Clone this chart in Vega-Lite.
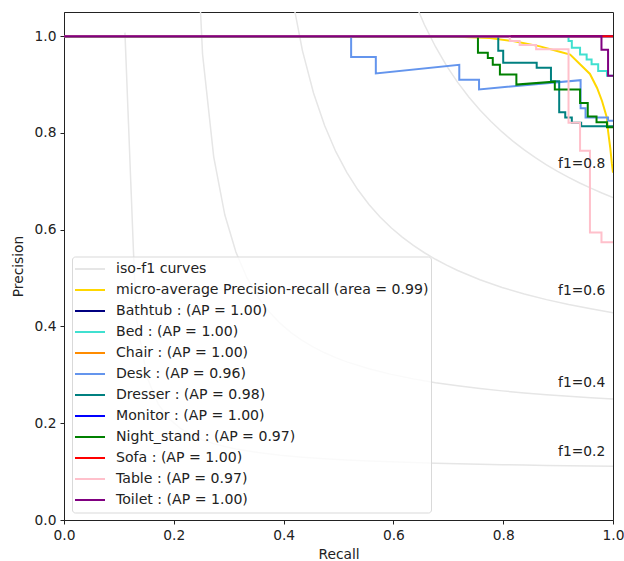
{
  "$schema": "https://vega.github.io/schema/vega-lite/v6.json",
  "autosize": {"type": "none"},
  "width": 549,
  "height": 508,
  "padding": {"left": 64, "top": 12, "right": 11, "bottom": 41},
  "background": "white",
  "config": {
    "view": {"stroke": "#222", "strokeWidth": 1},
    "axis": {"grid": false, "labelFlush": false, "labelOverlap": false, "domainColor": "#222", "tickColor": "#222", "tickSize": 4, "labelColor": "#222", "titleColor": "#222", "labelFont": "DejaVu Sans", "titleFont": "DejaVu Sans", "labelFontSize": 13.8, "titleFontSize": 13.8, "titleFontWeight": "normal", "labelPadding": 4},
    "legend": {"orient": "none", "legendX": 8, "legendY": 244.5, "symbolType": "stroke", "symbolSize": 900, "symbolStrokeWidth": 2, "labelFont": "DejaVu Sans", "labelFontSize": 14.1, "labelColor": "#222", "fillColor": "rgba(255,255,255,0.8)", "strokeColor": "#d9d9d9", "cornerRadius": 3, "padding": 2, "rowPadding": 0, "clipHeight": 21, "labelLimit": 500, "labelOffset": 10}
  },
  "datasets": {
    "iso": [
      {"s":"iso-f1 curves","c":"0.2","i":0,"x":0.1110,"y":1.0074},
      {"s":"iso-f1 curves","c":"0.2","i":1,"x":0.1312,"y":0.4203},
      {"s":"iso-f1 curves","c":"0.2","i":2,"x":0.1514,"y":0.2944},
      {"s":"iso-f1 curves","c":"0.2","i":3,"x":0.1716,"y":0.2396},
      {"s":"iso-f1 curves","c":"0.2","i":4,"x":0.1918,"y":0.2089},
      {"s":"iso-f1 curves","c":"0.2","i":5,"x":0.2120,"y":0.1893},
      {"s":"iso-f1 curves","c":"0.2","i":6,"x":0.2322,"y":0.1756},
      {"s":"iso-f1 curves","c":"0.2","i":7,"x":0.2524,"y":0.1656},
      {"s":"iso-f1 curves","c":"0.2","i":8,"x":0.2727,"y":0.1579},
      {"s":"iso-f1 curves","c":"0.2","i":9,"x":0.2929,"y":0.1519},
      {"s":"iso-f1 curves","c":"0.2","i":10,"x":0.3131,"y":0.1469},
      {"s":"iso-f1 curves","c":"0.2","i":11,"x":0.3535,"y":0.1395},
      {"s":"iso-f1 curves","c":"0.2","i":12,"x":0.3939,"y":0.1340},
      {"s":"iso-f1 curves","c":"0.2","i":13,"x":0.4343,"y":0.1299},
      {"s":"iso-f1 curves","c":"0.2","i":14,"x":0.4747,"y":0.1267},
      {"s":"iso-f1 curves","c":"0.2","i":15,"x":0.5151,"y":0.1241},
      {"s":"iso-f1 curves","c":"0.2","i":16,"x":0.5555,"y":0.1220},
      {"s":"iso-f1 curves","c":"0.2","i":17,"x":0.5959,"y":0.1202},
      {"s":"iso-f1 curves","c":"0.2","i":18,"x":0.6363,"y":0.1187},
      {"s":"iso-f1 curves","c":"0.2","i":19,"x":0.6767,"y":0.1173},
      {"s":"iso-f1 curves","c":"0.2","i":20,"x":0.7171,"y":0.1162},
      {"s":"iso-f1 curves","c":"0.2","i":21,"x":0.7576,"y":0.1152},
      {"s":"iso-f1 curves","c":"0.2","i":22,"x":0.7980,"y":0.1143},
      {"s":"iso-f1 curves","c":"0.2","i":23,"x":0.8384,"y":0.1135},
      {"s":"iso-f1 curves","c":"0.2","i":24,"x":0.8788,"y":0.1128},
      {"s":"iso-f1 curves","c":"0.2","i":25,"x":0.9192,"y":0.1122},
      {"s":"iso-f1 curves","c":"0.2","i":26,"x":0.9596,"y":0.1116},
      {"s":"iso-f1 curves","c":"0.2","i":27,"x":1.0,"y":0.1111},
      {"s":"iso-f1 curves","c":"0.4","i":0,"x":0.2120,"y":3.522},
      {"s":"iso-f1 curves","c":"0.4","i":1,"x":0.2322,"y":1.4405},
      {"s":"iso-f1 curves","c":"0.4","i":2,"x":0.2524,"y":0.9627},
      {"s":"iso-f1 curves","c":"0.4","i":3,"x":0.2727,"y":0.7506},
      {"s":"iso-f1 curves","c":"0.4","i":4,"x":0.2929,"y":0.6308},
      {"s":"iso-f1 curves","c":"0.4","i":5,"x":0.3131,"y":0.5538},
      {"s":"iso-f1 curves","c":"0.4","i":6,"x":0.3333,"y":0.5002},
      {"s":"iso-f1 curves","c":"0.4","i":7,"x":0.3535,"y":0.4606},
      {"s":"iso-f1 curves","c":"0.4","i":8,"x":0.3737,"y":0.4303},
      {"s":"iso-f1 curves","c":"0.4","i":9,"x":0.3939,"y":0.4063},
      {"s":"iso-f1 curves","c":"0.4","i":10,"x":0.4141,"y":0.3868},
      {"s":"iso-f1 curves","c":"0.4","i":11,"x":0.4343,"y":0.3707},
      {"s":"iso-f1 curves","c":"0.4","i":12,"x":0.4545,"y":0.3572},
      {"s":"iso-f1 curves","c":"0.4","i":13,"x":0.4747,"y":0.3456},
      {"s":"iso-f1 curves","c":"0.4","i":14,"x":0.4949,"y":0.3356},
      {"s":"iso-f1 curves","c":"0.4","i":15,"x":0.5151,"y":0.3269},
      {"s":"iso-f1 curves","c":"0.4","i":16,"x":0.5555,"y":0.3125},
      {"s":"iso-f1 curves","c":"0.4","i":17,"x":0.5959,"y":0.3010},
      {"s":"iso-f1 curves","c":"0.4","i":18,"x":0.6363,"y":0.2917},
      {"s":"iso-f1 curves","c":"0.4","i":19,"x":0.6767,"y":0.2839},
      {"s":"iso-f1 curves","c":"0.4","i":20,"x":0.7171,"y":0.2774},
      {"s":"iso-f1 curves","c":"0.4","i":21,"x":0.7576,"y":0.2717},
      {"s":"iso-f1 curves","c":"0.4","i":22,"x":0.7980,"y":0.2669},
      {"s":"iso-f1 curves","c":"0.4","i":23,"x":0.8384,"y":0.2627},
      {"s":"iso-f1 curves","c":"0.4","i":24,"x":0.8788,"y":0.2589},
      {"s":"iso-f1 curves","c":"0.4","i":25,"x":0.9192,"y":0.2556},
      {"s":"iso-f1 curves","c":"0.4","i":26,"x":0.9596,"y":0.2527},
      {"s":"iso-f1 curves","c":"0.4","i":27,"x":1.0,"y":0.25},
      {"s":"iso-f1 curves","c":"0.6","i":0,"x":0.3131,"y":7.191},
      {"s":"iso-f1 curves","c":"0.6","i":1,"x":0.3333,"y":3.0055},
      {"s":"iso-f1 curves","c":"0.6","i":2,"x":0.3535,"y":1.9832},
      {"s":"iso-f1 curves","c":"0.6","i":3,"x":0.3737,"y":1.5216},
      {"s":"iso-f1 curves","c":"0.6","i":4,"x":0.3939,"y":1.2587},
      {"s":"iso-f1 curves","c":"0.6","i":5,"x":0.4141,"y":1.0889},
      {"s":"iso-f1 curves","c":"0.6","i":6,"x":0.4343,"y":0.9702},
      {"s":"iso-f1 curves","c":"0.6","i":7,"x":0.4545,"y":0.8826},
      {"s":"iso-f1 curves","c":"0.6","i":8,"x":0.4747,"y":0.8152},
      {"s":"iso-f1 curves","c":"0.6","i":9,"x":0.4949,"y":0.7618},
      {"s":"iso-f1 curves","c":"0.6","i":10,"x":0.5151,"y":0.7184},
      {"s":"iso-f1 curves","c":"0.6","i":11,"x":0.5353,"y":0.6825},
      {"s":"iso-f1 curves","c":"0.6","i":12,"x":0.5555,"y":0.6522},
      {"s":"iso-f1 curves","c":"0.6","i":13,"x":0.5757,"y":0.6264},
      {"s":"iso-f1 curves","c":"0.6","i":14,"x":0.5959,"y":0.6041},
      {"s":"iso-f1 curves","c":"0.6","i":15,"x":0.6161,"y":0.5847},
      {"s":"iso-f1 curves","c":"0.6","i":16,"x":0.6363,"y":0.5676},
      {"s":"iso-f1 curves","c":"0.6","i":17,"x":0.6565,"y":0.5524},
      {"s":"iso-f1 curves","c":"0.6","i":18,"x":0.6767,"y":0.5389},
      {"s":"iso-f1 curves","c":"0.6","i":19,"x":0.6969,"y":0.5268},
      {"s":"iso-f1 curves","c":"0.6","i":20,"x":0.7171,"y":0.5158},
      {"s":"iso-f1 curves","c":"0.6","i":21,"x":0.7576,"y":0.4967},
      {"s":"iso-f1 curves","c":"0.6","i":22,"x":0.7980,"y":0.4807},
      {"s":"iso-f1 curves","c":"0.6","i":23,"x":0.8384,"y":0.4672},
      {"s":"iso-f1 curves","c":"0.6","i":24,"x":0.8788,"y":0.4555},
      {"s":"iso-f1 curves","c":"0.6","i":25,"x":0.9192,"y":0.4454},
      {"s":"iso-f1 curves","c":"0.6","i":26,"x":0.9596,"y":0.4365},
      {"s":"iso-f1 curves","c":"0.6","i":27,"x":1.0,"y":0.4286},
      {"s":"iso-f1 curves","c":"0.8","i":0,"x":0.4141,"y":11.76},
      {"s":"iso-f1 curves","c":"0.8","i":1,"x":0.4343,"y":5.0666},
      {"s":"iso-f1 curves","c":"0.8","i":2,"x":0.4545,"y":3.3363},
      {"s":"iso-f1 curves","c":"0.8","i":3,"x":0.4747,"y":2.5421},
      {"s":"iso-f1 curves","c":"0.8","i":4,"x":0.4949,"y":2.0860},
      {"s":"iso-f1 curves","c":"0.8","i":5,"x":0.5151,"y":1.7901},
      {"s":"iso-f1 curves","c":"0.8","i":6,"x":0.5353,"y":1.5825},
      {"s":"iso-f1 curves","c":"0.8","i":7,"x":0.5555,"y":1.4289},
      {"s":"iso-f1 curves","c":"0.8","i":8,"x":0.5757,"y":1.3106},
      {"s":"iso-f1 curves","c":"0.8","i":9,"x":0.5959,"y":1.2167},
      {"s":"iso-f1 curves","c":"0.8","i":10,"x":0.6161,"y":1.1403},
      {"s":"iso-f1 curves","c":"0.8","i":11,"x":0.6363,"y":1.0770},
      {"s":"iso-f1 curves","c":"0.8","i":12,"x":0.6565,"y":1.0237},
      {"s":"iso-f1 curves","c":"0.8","i":13,"x":0.6767,"y":0.9782},
      {"s":"iso-f1 curves","c":"0.8","i":14,"x":0.6969,"y":0.9388},
      {"s":"iso-f1 curves","c":"0.8","i":15,"x":0.7171,"y":0.9045},
      {"s":"iso-f1 curves","c":"0.8","i":16,"x":0.7373,"y":0.8743},
      {"s":"iso-f1 curves","c":"0.8","i":17,"x":0.7576,"y":0.8475},
      {"s":"iso-f1 curves","c":"0.8","i":18,"x":0.7778,"y":0.8236},
      {"s":"iso-f1 curves","c":"0.8","i":19,"x":0.7980,"y":0.8021},
      {"s":"iso-f1 curves","c":"0.8","i":20,"x":0.8182,"y":0.7826},
      {"s":"iso-f1 curves","c":"0.8","i":21,"x":0.8384,"y":0.7650},
      {"s":"iso-f1 curves","c":"0.8","i":22,"x":0.8586,"y":0.7489},
      {"s":"iso-f1 curves","c":"0.8","i":23,"x":0.8788,"y":0.7342},
      {"s":"iso-f1 curves","c":"0.8","i":24,"x":0.8990,"y":0.7207},
      {"s":"iso-f1 curves","c":"0.8","i":25,"x":0.9192,"y":0.7082},
      {"s":"iso-f1 curves","c":"0.8","i":26,"x":0.9394,"y":0.6966},
      {"s":"iso-f1 curves","c":"0.8","i":27,"x":0.9596,"y":0.6859},
      {"s":"iso-f1 curves","c":"0.8","i":28,"x":0.9798,"y":0.6760},
      {"s":"iso-f1 curves","c":"0.8","i":29,"x":1.0,"y":0.6667}
    ],
    "micro": [
      {"s":"micro-average Precision-recall (area = 0.99)","i":0,"x":0,"y":1},
      {"s":"micro-average Precision-recall (area = 0.99)","i":1,"x":0.698,"y":1.0},
      {"s":"micro-average Precision-recall (area = 0.99)","i":2,"x":0.740,"y":0.998},
      {"s":"micro-average Precision-recall (area = 0.99)","i":3,"x":0.776,"y":0.996},
      {"s":"micro-average Precision-recall (area = 0.99)","i":4,"x":0.818,"y":0.990},
      {"s":"micro-average Precision-recall (area = 0.99)","i":5,"x":0.867,"y":0.979},
      {"s":"micro-average Precision-recall (area = 0.99)","i":6,"x":0.903,"y":0.968},
      {"s":"micro-average Precision-recall (area = 0.99)","i":7,"x":0.922,"y":0.962},
      {"s":"micro-average Precision-recall (area = 0.99)","i":8,"x":0.940,"y":0.942},
      {"s":"micro-average Precision-recall (area = 0.99)","i":9,"x":0.958,"y":0.922},
      {"s":"micro-average Precision-recall (area = 0.99)","i":10,"x":0.971,"y":0.893},
      {"s":"micro-average Precision-recall (area = 0.99)","i":11,"x":0.980,"y":0.866},
      {"s":"micro-average Precision-recall (area = 0.99)","i":12,"x":0.989,"y":0.831},
      {"s":"micro-average Precision-recall (area = 0.99)","i":13,"x":0.991,"y":0.804},
      {"s":"micro-average Precision-recall (area = 0.99)","i":14,"x":0.995,"y":0.769},
      {"s":"micro-average Precision-recall (area = 0.99)","i":15,"x":0.998,"y":0.736},
      {"s":"micro-average Precision-recall (area = 0.99)","i":16,"x":1.0,"y":0.718}
    ],
    "cls": [
      {"s":"Bathtub : (AP = 1.00)","i":0,"x":0,"y":1},
      {"s":"Bathtub : (AP = 1.00)","i":1,"x":1,"y":1},
      {"s":"Bed : (AP = 1.00)","i":0,"x":0,"y":1},
      {"s":"Bed : (AP = 1.00)","i":1,"x":0.919,"y":1},
      {"s":"Bed : (AP = 1.00)","i":2,"x":0.919,"y":0.990},
      {"s":"Bed : (AP = 1.00)","i":3,"x":0.925,"y":0.990},
      {"s":"Bed : (AP = 1.00)","i":4,"x":0.925,"y":0.976},
      {"s":"Bed : (AP = 1.00)","i":5,"x":0.940,"y":0.976},
      {"s":"Bed : (AP = 1.00)","i":6,"x":0.940,"y":0.962},
      {"s":"Bed : (AP = 1.00)","i":7,"x":0.952,"y":0.962},
      {"s":"Bed : (AP = 1.00)","i":8,"x":0.952,"y":0.952},
      {"s":"Bed : (AP = 1.00)","i":9,"x":0.961,"y":0.952},
      {"s":"Bed : (AP = 1.00)","i":10,"x":0.961,"y":0.942},
      {"s":"Bed : (AP = 1.00)","i":11,"x":0.973,"y":0.942},
      {"s":"Bed : (AP = 1.00)","i":12,"x":0.973,"y":0.928},
      {"s":"Bed : (AP = 1.00)","i":13,"x":0.989,"y":0.928},
      {"s":"Bed : (AP = 1.00)","i":14,"x":0.989,"y":0.918},
      {"s":"Bed : (AP = 1.00)","i":15,"x":1.0,"y":0.918},
      {"s":"Chair : (AP = 1.00)","i":0,"x":0,"y":1},
      {"s":"Chair : (AP = 1.00)","i":1,"x":1,"y":1},
      {"s":"Desk : (AP = 0.96)","i":0,"x":0,"y":1},
      {"s":"Desk : (AP = 0.96)","i":1,"x":0.523,"y":1},
      {"s":"Desk : (AP = 0.96)","i":2,"x":0.523,"y":0.957},
      {"s":"Desk : (AP = 0.96)","i":3,"x":0.568,"y":0.957},
      {"s":"Desk : (AP = 0.96)","i":4,"x":0.568,"y":0.923},
      {"s":"Desk : (AP = 0.96)","i":5,"x":0.720,"y":0.941},
      {"s":"Desk : (AP = 0.96)","i":6,"x":0.720,"y":0.910},
      {"s":"Desk : (AP = 0.96)","i":7,"x":0.756,"y":0.910},
      {"s":"Desk : (AP = 0.96)","i":8,"x":0.756,"y":0.890},
      {"s":"Desk : (AP = 0.96)","i":9,"x":0.941,"y":0.909},
      {"s":"Desk : (AP = 0.96)","i":10,"x":0.941,"y":0.851},
      {"s":"Desk : (AP = 0.96)","i":11,"x":0.950,"y":0.851},
      {"s":"Desk : (AP = 0.96)","i":12,"x":0.950,"y":0.832},
      {"s":"Desk : (AP = 0.96)","i":13,"x":0.991,"y":0.832},
      {"s":"Desk : (AP = 0.96)","i":14,"x":0.991,"y":0.825},
      {"s":"Desk : (AP = 0.96)","i":15,"x":1.0,"y":0.825},
      {"s":"Dresser : (AP = 0.98)","i":0,"x":0,"y":1},
      {"s":"Dresser : (AP = 0.98)","i":1,"x":0.791,"y":1},
      {"s":"Dresser : (AP = 0.98)","i":2,"x":0.791,"y":0.970},
      {"s":"Dresser : (AP = 0.98)","i":3,"x":0.800,"y":0.970},
      {"s":"Dresser : (AP = 0.98)","i":4,"x":0.800,"y":0.945},
      {"s":"Dresser : (AP = 0.98)","i":5,"x":0.861,"y":0.945},
      {"s":"Dresser : (AP = 0.98)","i":6,"x":0.861,"y":0.935},
      {"s":"Dresser : (AP = 0.98)","i":7,"x":0.887,"y":0.935},
      {"s":"Dresser : (AP = 0.98)","i":8,"x":0.887,"y":0.907},
      {"s":"Dresser : (AP = 0.98)","i":9,"x":0.902,"y":0.907},
      {"s":"Dresser : (AP = 0.98)","i":10,"x":0.902,"y":0.843},
      {"s":"Dresser : (AP = 0.98)","i":11,"x":0.913,"y":0.843},
      {"s":"Dresser : (AP = 0.98)","i":12,"x":0.913,"y":0.832},
      {"s":"Dresser : (AP = 0.98)","i":13,"x":0.925,"y":0.832},
      {"s":"Dresser : (AP = 0.98)","i":14,"x":0.925,"y":0.821},
      {"s":"Dresser : (AP = 0.98)","i":15,"x":0.942,"y":0.821},
      {"s":"Dresser : (AP = 0.98)","i":16,"x":0.942,"y":0.814},
      {"s":"Dresser : (AP = 0.98)","i":17,"x":1.0,"y":0.814},
      {"s":"Monitor : (AP = 1.00)","i":0,"x":0,"y":1},
      {"s":"Monitor : (AP = 1.00)","i":1,"x":1,"y":1},
      {"s":"Night_stand : (AP = 0.97)","i":0,"x":0,"y":1},
      {"s":"Night_stand : (AP = 0.97)","i":1,"x":0.754,"y":1},
      {"s":"Night_stand : (AP = 0.97)","i":2,"x":0.754,"y":0.966},
      {"s":"Night_stand : (AP = 0.97)","i":3,"x":0.772,"y":0.966},
      {"s":"Night_stand : (AP = 0.97)","i":4,"x":0.772,"y":0.955},
      {"s":"Night_stand : (AP = 0.97)","i":5,"x":0.781,"y":0.955},
      {"s":"Night_stand : (AP = 0.97)","i":6,"x":0.781,"y":0.941},
      {"s":"Night_stand : (AP = 0.97)","i":7,"x":0.794,"y":0.941},
      {"s":"Night_stand : (AP = 0.97)","i":8,"x":0.794,"y":0.921},
      {"s":"Night_stand : (AP = 0.97)","i":9,"x":0.824,"y":0.921},
      {"s":"Night_stand : (AP = 0.97)","i":10,"x":0.824,"y":0.900},
      {"s":"Night_stand : (AP = 0.97)","i":11,"x":0.894,"y":0.906},
      {"s":"Night_stand : (AP = 0.97)","i":12,"x":0.894,"y":0.890},
      {"s":"Night_stand : (AP = 0.97)","i":13,"x":0.940,"y":0.890},
      {"s":"Night_stand : (AP = 0.97)","i":14,"x":0.940,"y":0.862},
      {"s":"Night_stand : (AP = 0.97)","i":15,"x":0.954,"y":0.862},
      {"s":"Night_stand : (AP = 0.97)","i":16,"x":0.954,"y":0.834},
      {"s":"Night_stand : (AP = 0.97)","i":17,"x":0.970,"y":0.834},
      {"s":"Night_stand : (AP = 0.97)","i":18,"x":0.970,"y":0.822},
      {"s":"Night_stand : (AP = 0.97)","i":19,"x":0.989,"y":0.822},
      {"s":"Night_stand : (AP = 0.97)","i":20,"x":0.989,"y":0.812},
      {"s":"Night_stand : (AP = 0.97)","i":21,"x":1.0,"y":0.812},
      {"s":"Sofa : (AP = 1.00)","i":0,"x":0,"y":1},
      {"s":"Sofa : (AP = 1.00)","i":1,"x":1,"y":1},
      {"s":"Table : (AP = 0.97)","i":0,"x":0,"y":1},
      {"s":"Table : (AP = 0.97)","i":1,"x":0.812,"y":1},
      {"s":"Table : (AP = 0.97)","i":2,"x":0.812,"y":0.990},
      {"s":"Table : (AP = 0.97)","i":3,"x":0.830,"y":0.990},
      {"s":"Table : (AP = 0.97)","i":4,"x":0.830,"y":0.982},
      {"s":"Table : (AP = 0.97)","i":5,"x":0.860,"y":0.982},
      {"s":"Table : (AP = 0.97)","i":6,"x":0.860,"y":0.973},
      {"s":"Table : (AP = 0.97)","i":7,"x":0.919,"y":0.973},
      {"s":"Table : (AP = 0.97)","i":8,"x":0.919,"y":0.821},
      {"s":"Table : (AP = 0.97)","i":9,"x":0.940,"y":0.821},
      {"s":"Table : (AP = 0.97)","i":10,"x":0.940,"y":0.763},
      {"s":"Table : (AP = 0.97)","i":11,"x":0.958,"y":0.763},
      {"s":"Table : (AP = 0.97)","i":12,"x":0.958,"y":0.594},
      {"s":"Table : (AP = 0.97)","i":13,"x":0.979,"y":0.594},
      {"s":"Table : (AP = 0.97)","i":14,"x":0.979,"y":0.574},
      {"s":"Table : (AP = 0.97)","i":15,"x":1.0,"y":0.574},
      {"s":"Toilet : (AP = 1.00)","i":0,"x":0,"y":1},
      {"s":"Toilet : (AP = 1.00)","i":1,"x":0.979,"y":1},
      {"s":"Toilet : (AP = 1.00)","i":2,"x":0.979,"y":0.972},
      {"s":"Toilet : (AP = 1.00)","i":3,"x":0.991,"y":0.972},
      {"s":"Toilet : (AP = 1.00)","i":4,"x":0.991,"y":0.918},
      {"s":"Toilet : (AP = 1.00)","i":5,"x":1.0,"y":0.918}
    ],
    "lab": [
      {"t":"f1=0.2","x":0.9,"y":0.1322},
      {"t":"f1=0.4","x":0.9,"y":0.2756},
      {"t":"f1=0.6","x":0.9,"y":0.4654},
      {"t":"f1=0.8","x":0.9,"y":0.7282}
    ]
  },
  "encoding": {
    "x": {"field": "x", "type": "quantitative", "title": "Recall", "scale": {"domain": [0, 1], "nice": false}, "axis": {"values": [0, 0.2, 0.4, 0.6, 0.8, 1.0], "format": ".1f", "titlePadding": 6}},
    "y": {"field": "y", "type": "quantitative", "title": "Precision", "scale": {"domain": [0, 1.05], "nice": false}, "axis": {"values": [0, 0.2, 0.4, 0.6, 0.8, 1.0], "format": ".1f", "titlePadding": 9}}
  },
  "layer": [
    {
      "data": {"name": "iso"},
      "mark": {"type": "line", "clip": true, "strokeWidth": 1.5},
      "encoding": {
        "color": {"field": "s", "type": "nominal", "title": null,
          "scale": {"domain": ["iso-f1 curves", "micro-average Precision-recall (area = 0.99)", "Bathtub : (AP = 1.00)", "Bed : (AP = 1.00)", "Chair : (AP = 1.00)", "Desk : (AP = 0.96)", "Dresser : (AP = 0.98)", "Monitor : (AP = 1.00)", "Night_stand : (AP = 0.97)", "Sofa : (AP = 1.00)", "Table : (AP = 0.97)", "Toilet : (AP = 1.00)"],
                    "range": ["#e6e6e6", "#FFD700", "#000080", "#40E0D0", "#FF8C00", "#6495ED", "#008080", "#0000FF", "#008000", "#FF0000", "#FFC0CB", "#800080"]}},
        "detail": {"field": "c", "type": "nominal"},
        "order": {"field": "i", "type": "quantitative"}
      }
    },
    {
      "data": {"name": "micro"},
      "mark": {"type": "line", "clip": true, "strokeWidth": 2},
      "encoding": {
        "color": {"field": "s", "type": "nominal", "title": null},
        "order": {"field": "i", "type": "quantitative"}
      }
    },
    {
      "data": {"name": "cls"},
      "mark": {"type": "line", "clip": true, "strokeWidth": 2},
      "encoding": {
        "color": {"field": "s", "type": "nominal", "title": null},
        "order": {"field": "i", "type": "quantitative"}
      }
    },
    {
      "data": {"name": "lab"},
      "mark": {"type": "text", "align": "left", "baseline": "alphabetic", "font": "DejaVu Sans", "fontSize": 13.8, "color": "#222"},
      "encoding": {"text": {"field": "t", "type": "nominal"}}
    }
  ]
}
